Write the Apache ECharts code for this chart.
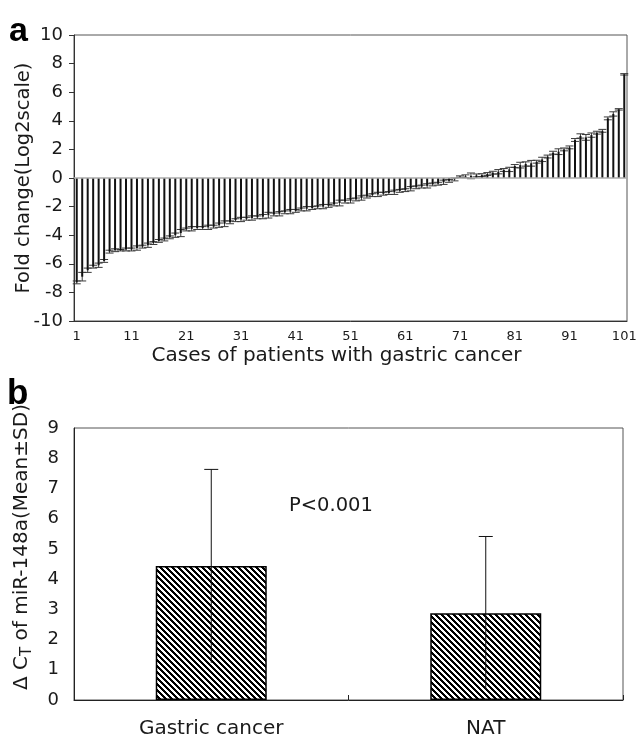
<!DOCTYPE html>
<html>
<head>
<meta charset="utf-8">
<script src="https://cdn.jsdelivr.net/npm/echarts@6/dist/echarts.min.js"></script>
<style>
  html, body { margin: 0; padding: 0; background: #fff; }
  #chart { width: 641px; height: 741px; }
</style>
</head>
<body>
<div id="chart"></div>
<script>
// Panel a: per-case fold change of miR-148a (log2 scale), sorted ascending
const caseLabels = [];
for (let i = 1; i <= 101; i++) caseLabels.push(String(i));

const foldChange = [
  -7.30, -6.90, -6.45, -6.20, -6.10, -5.80, -5.15, -5.05, -5.05, -5.00,
  -5.00, -4.90, -4.80, -4.70, -4.55, -4.40, -4.30, -4.15, -4.00, -3.85,
  -3.60, -3.55, -3.50, -3.50, -3.45, -3.40, -3.30, -3.20, -3.10, -2.95,
  -2.90, -2.85, -2.80, -2.75, -2.70, -2.60, -2.55, -2.50, -2.40, -2.35,
  -2.30, -2.20, -2.15, -2.10, -2.05, -2.00, -1.95, -1.85, -1.75, -1.65,
  -1.60, -1.50, -1.40, -1.30, -1.20, -1.15, -1.10, -1.05, -1.00, -0.90,
  -0.85, -0.75, -0.65, -0.60, -0.55, -0.45, -0.40, -0.30, -0.20, -0.10,
   0.10,  0.12,  0.15,  0.18,  0.20,  0.28,  0.37,  0.44,  0.56,  0.60,
   0.84,  0.90,  0.98,  1.03,  1.14,  1.30,  1.50,  1.77,  1.84,  2.00,
   2.14,  2.66,  2.94,  2.84,  3.00,  3.17,  3.30,  4.17,  4.48,  4.80,
   7.25
];

const foldSD = [
  0.10, 0.30, 0.15, 0.10, 0.15, 0.10, 0.10, 0.10, 0.05, 0.10,
  0.10, 0.15, 0.10, 0.15, 0.10, 0.10, 0.10, 0.10, 0.15, 0.25,
  0.10, 0.15, 0.10, 0.10, 0.15, 0.10, 0.15, 0.20, 0.10, 0.10,
  0.15, 0.10, 0.15, 0.10, 0.15, 0.20, 0.10, 0.15, 0.10, 0.15,
  0.10, 0.10, 0.15, 0.10, 0.10, 0.15, 0.10, 0.10, 0.20, 0.10,
  0.15, 0.10, 0.15, 0.10, 0.10, 0.15, 0.10, 0.10, 0.15, 0.10,
  0.10, 0.15, 0.10, 0.10, 0.15, 0.10, 0.10, 0.15, 0.10, 0.10,
  0.05, 0.10, 0.20, 0.10, 0.10, 0.10, 0.10, 0.15, 0.10, 0.15,
  0.10, 0.20, 0.15, 0.20, 0.10, 0.15, 0.10, 0.10, 0.20, 0.10,
  0.10, 0.10, 0.15, 0.20, 0.15, 0.10, 0.10, 0.10, 0.15, 0.05,
  0.05
];

const foldTicks = { min: -10, max: 10, step: 2 };

// Panel b: ΔCT of miR-148a, mean ± SD
const groups = ['Gastric cancer', 'NAT'];
const deltaCtMean = [4.43, 2.87];
const deltaCtSD = [3.20, 2.54];
const deltaTicks = { min: 0, max: 9, step: 1 };
const pValueText = 'P<0.001';

const FONT = '"DejaVu Sans", "Open Sans", sans-serif';
const INK = '#1a1a1a';

// diagonal hatch ("\" direction) used for the panel b bars
function hatchPattern() {
  const n = 6;
  const c = document.createElement('canvas');
  c.width = n; c.height = n;
  const ctx = c.getContext('2d');
  const img = ctx.createImageData(n, n);
  for (let y = 0; y < n; y++) {
    for (let x = 0; x < n; x++) {
      const k = (y * n + x) * 4;
      const dark = ((x - y) % n + n) % n < 3;
      const v = dark ? 0 : 255;
      img.data[k] = v; img.data[k + 1] = v; img.data[k + 2] = v; img.data[k + 3] = 255;
    }
  }
  ctx.putImageData(img, 0, 0);
  return c;
}

function errorBarRenderer(capW, color, lineW, lowerCap) {
  return function (params, api) {
    const x = api.value(0);
    const lo = api.coord([x, api.value(1)]);
    const hi = api.coord([x, api.value(2)]);
    const st = { stroke: color, lineWidth: lineW };
    const children = [
      { type: 'line', shape: { x1: hi[0], y1: hi[1], x2: lo[0], y2: lo[1] }, style: st },
      { type: 'line', shape: { x1: hi[0] - capW / 2, y1: hi[1], x2: hi[0] + capW / 2, y2: hi[1] }, style: st }
    ];
    if (lowerCap) {
      children.push({ type: 'line', shape: { x1: lo[0] - capW / 2, y1: lo[1], x2: lo[0] + capW / 2, y2: lo[1] }, style: st });
    }
    return { type: 'group', children: children };
  };
}

const foldErr = foldChange.map((v, i) => [i, v - foldSD[i], v + foldSD[i]]);
const deltaErr = deltaCtMean.map((v, i) => [i, v - deltaCtSD[i], v + deltaCtSD[i]]);

const chart = echarts.init(document.getElementById('chart'), null, { renderer: 'canvas' });

chart.setOption({
  backgroundColor: '#fff',
  animation: false,
  textStyle: { fontFamily: FONT, color: INK },
  grid: [
    { left: 74, right: 14, top: 35, bottom: 420, containLabel: false, outerBoundsMode: 'none',
      show: true, borderColor: '#555', borderWidth: 1 },
    { left: 74, right: 18, top: 428, bottom: 41, containLabel: false, outerBoundsMode: 'none',
      show: true, borderColor: '#555', borderWidth: 1 }
  ],
  xAxis: [
    {
      gridIndex: 0, type: 'category', data: caseLabels, boundaryGap: true,
      axisLine: { onZero: false, lineStyle: { color: '#333' } },
      axisTick: { show: false },
      axisLabel: { interval: 9, fontSize: 13, color: INK, margin: 9, fontFamily: FONT },
      name: 'Cases of patients with gastric cancer', nameLocation: 'middle', nameGap: 25,
      nameMoveOverlap: false,
      nameTextStyle: { fontSize: 20, color: INK, fontFamily: FONT, padding: [0, 28, 0, 0] }
    },
    {
      gridIndex: 1, type: 'category', data: groups, boundaryGap: true,
      axisLine: { lineStyle: { color: '#222' } },
      axisTick: { show: true, inside: true, length: 5, lineStyle: { color: '#222' } },
      axisLabel: { fontSize: 20, color: INK, margin: 19, fontFamily: FONT }
    }
  ],
  yAxis: [
    {
      gridIndex: 0, type: 'value', min: foldTicks.min, max: foldTicks.max, interval: foldTicks.step,
      axisLine: { show: true, lineStyle: { color: '#333' } },
      axisTick: { show: true, length: 5, lineStyle: { color: '#333' } },
      splitLine: { show: false },
      axisLabel: { fontSize: 18, color: INK, margin: 11, fontFamily: FONT },
      name: 'Fold change(Log2scale)', nameLocation: 'middle', nameGap: 40, nameRotate: 90,
      nameMoveOverlap: false,
      nameTextStyle: { fontSize: 19.5, color: INK, fontFamily: FONT }
    },
    {
      gridIndex: 1, type: 'value', min: deltaTicks.min, max: deltaTicks.max, interval: deltaTicks.step,
      axisLine: { show: true, lineStyle: { color: '#222' } },
      axisTick: { show: false },
      splitLine: { show: false },
      axisLabel: { fontSize: 18, color: INK, margin: 15, fontFamily: FONT }
    }
  ],
  graphic: [
    { type: 'text', left: 9, top: 15, style: { text: 'a', font: 'bold 34px "Liberation Sans", Arial, sans-serif', fill: '#000' } },
    { type: 'text', left: 7, top: 377, style: { text: 'b', font: 'bold 35px "Liberation Sans", Arial, sans-serif', fill: '#000' } },
    {
      type: 'text', x: 22, y: 547, rotation: Math.PI / 2,
      style: {
        text: '{m|\u0394 C}{s|T}{m| of miR-148a(Mean\u00b1SD)}',
        align: 'center', verticalAlign: 'middle', fill: INK,
        rich: {
          m: { fontSize: 20, fontFamily: FONT, lineHeight: 25, verticalAlign: 'middle', fill: INK },
          s: { fontSize: 15, fontFamily: FONT, lineHeight: 14, verticalAlign: 'bottom', fill: INK }
        }
      }
    },
    { type: 'text', left: 289, top: 496, style: { text: pValueText, font: '19.5px ' + FONT, fill: INK } }
  ],
  series: [
    {
      type: 'custom', xAxisIndex: 0, yAxisIndex: 0, data: foldErr, z: 2,
      renderItem: errorBarRenderer(8, '#3a3a3a', 1, true)
    },
    {
      type: 'bar', xAxisIndex: 0, yAxisIndex: 0, data: foldChange, barWidth: 2, z: 3,
      itemStyle: { color: '#111' },
      markLine: {
        silent: true, symbol: 'none', label: { show: false },
        lineStyle: { color: '#aaa', width: 1.5, type: 'solid' },
        data: [{ yAxis: 0 }]
      }
    },
    {
      type: 'bar', xAxisIndex: 1, yAxisIndex: 1, data: deltaCtMean, barWidth: 111, z: 2,
      itemStyle: { color: { image: hatchPattern(), repeat: 'repeat' }, borderColor: '#000', borderWidth: 1.5 }
    },
    {
      type: 'custom', xAxisIndex: 1, yAxisIndex: 1, data: deltaErr, z: 4,
      renderItem: errorBarRenderer(14, '#111', 1, false)
    }
  ]
});
</script>
</body>
</html>
